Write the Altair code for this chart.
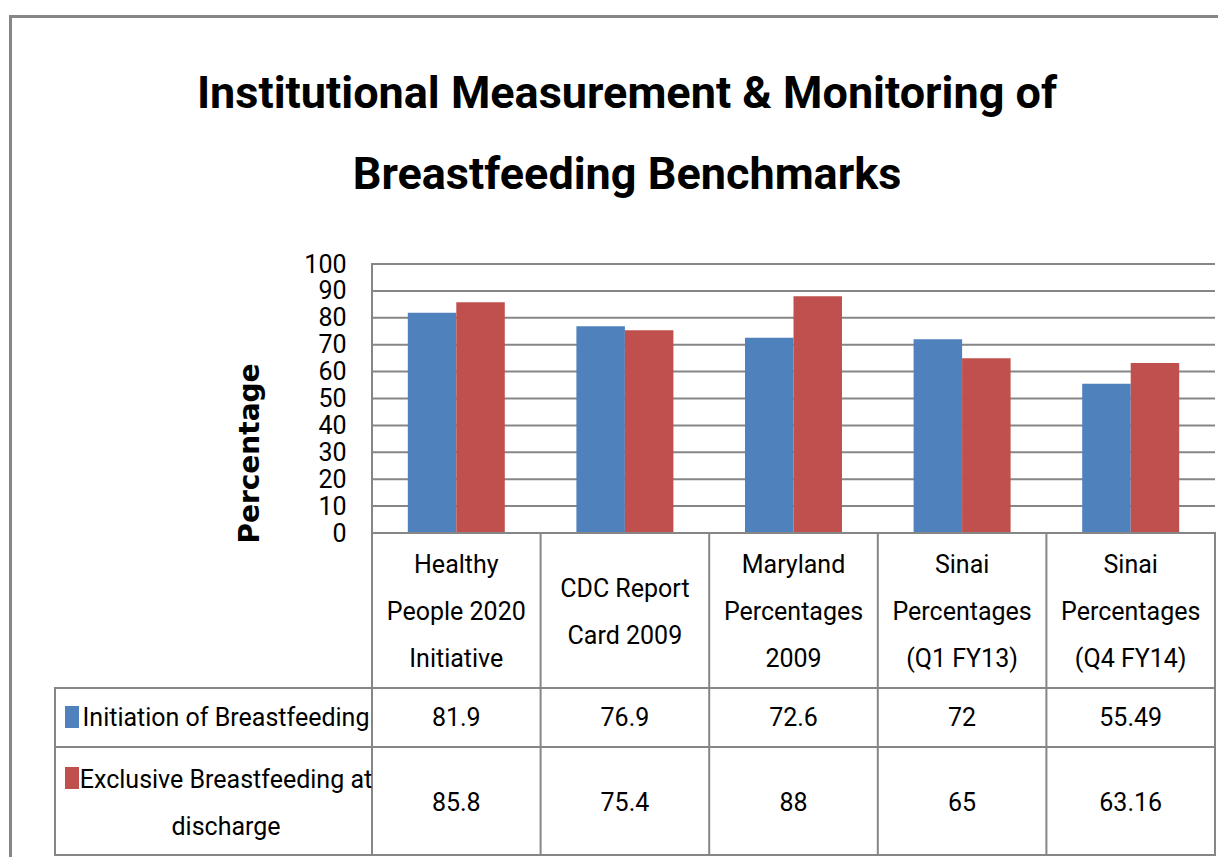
import altair as alt
import pandas as pd

# ---------------- data ----------------
categories = [
    "Healthy People 2020 Initiative",
    "CDC Report Card 2009",
    "Maryland Percentages 2009",
    "Sinai Percentages (Q1 FY13)",
    "Sinai Percentages (Q4 FY14)",
]
category_lines = [
    ["Healthy", "People 2020", "Initiative"],
    ["CDC Report", "Card 2009"],
    ["Maryland", "Percentages", "2009"],
    ["Sinai", "Percentages", "(Q1 FY13)"],
    ["Sinai", "Percentages", "(Q4 FY14)"],
]
series_names = ["Initiation of Breastfeeding", "Exclusive Breastfeeding at discharge"]
series_label_lines = [["Initiation of Breastfeeding"], ["Exclusive Breastfeeding at", "discharge"]]
initiation = [81.9, 76.9, 72.6, 72, 55.49]
exclusive = [85.8, 75.4, 88, 65, 63.16]
y_ticks = [0, 10, 20, 30, 40, 50, 60, 70, 80, 90, 100]
title_lines = ["Institutional Measurement & Monitoring of", "Breastfeeding Benchmarks"]
y_title = "Percentage"

# ---------------- layout / style ----------------
colors = ["#4F81BD", "#C0504D"]
GRAY = "#868686"
FONT = "Roboto, sans-serif"
TFS = 25   # table font size
LH = 47    # line height of table text

PLOT_L, PLOT_T, PLOT_R, PLOT_B = 55, 264, 1215, 855
COL0 = 372          # left edge of first category column
ZERO_Y, HUNDRED_Y = 533, 264
HEAD_B, ROW1_B = 688, 747
W, H = PLOT_R - PLOT_L, PLOT_B - PLOT_T
n = len(categories)
col_w = (PLOT_R - COL0) / n
x_min = -(COL0 - PLOT_L) / col_w
ppu = (ZERO_Y - HUNDRED_Y) / 100.0
y_min = -(PLOT_B - ZERO_Y) / ppu


def ux(px):
    return (px - COL0) / col_w


def uy(py):
    return (ZERO_Y - py) / ppu


bar_w = 48.5 / col_w

xs = alt.Scale(domain=[x_min, n], nice=False, zero=False)
ys = alt.Scale(domain=[y_min, 100], nice=False, zero=False)
yaxis = alt.Axis(
    values=y_ticks, grid=False, ticks=False, domain=False, offset=-(COL0 - PLOT_L),
    labelPadding=26, labelFont=FONT, labelFontSize=25, labelColor="black",
    labelOverlap=False,
    title=y_title, titleFont="DejaVu Sans", titleFontSize=28, titleFontWeight="bold",
    titleColor="black", titleX=250 - COL0, titleY=453 - PLOT_T, titleAngle=270,
    titleAlign="center", titleBaseline="middle",
)


def X(f):
    return alt.X(f, type="quantitative", scale=xs, axis=None)


def Y(f):
    return alt.Y(f, type="quantitative", scale=ys, axis=yaxis)


def first_line_y(center_px, nlines):
    return uy(center_px - (nlines - 1) * LH / 2.0)


# bars
rows = []
for j, vals in enumerate([initiation, exclusive]):
    for i, v in enumerate(vals):
        x0 = i + 0.5 + (j - 1) * bar_w
        rows.append({"cat": categories[i], "series": series_names[j], "value": v,
                     "x": x0, "x2": x0 + bar_w, "base": 0})
bars_df = pd.DataFrame(rows)

# grid lines
grid_df = pd.DataFrame([{"x": 0, "x2": n, "y": t} for t in y_ticks[1:]])

# table lines
lines = [
    {"x": 0, "x2": n, "y": 0, "y2": 0},
    {"x": x_min, "x2": n, "y": uy(HEAD_B), "y2": uy(HEAD_B)},
    {"x": x_min, "x2": n, "y": uy(ROW1_B), "y2": uy(ROW1_B)},
    {"x": x_min, "x2": n, "y": y_min, "y2": y_min},
    {"x": 0, "x2": 0, "y": 100, "y2": y_min},
    {"x": x_min, "x2": x_min, "y": uy(HEAD_B), "y2": y_min},
]
for k in range(1, n + 1):
    lines.append({"x": k, "x2": k, "y": 0, "y2": y_min})
lines_df = pd.DataFrame(lines)

# header text
head_df = pd.DataFrame([{"x": i + 0.5, "y": first_line_y(612, len(ls)), "label": "\n".join(ls)}
                        for i, ls in enumerate(category_lines)])

# values
row_mid_px = [(HEAD_B + ROW1_B) / 2, (ROW1_B + PLOT_B) / 2 + 2]
val_rows = []
for j, vals in enumerate([initiation, exclusive]):
    for i, v in enumerate(vals):
        val_rows.append({"x": i + 0.5, "y": uy(row_mid_px[j]), "label": f"{v:g}"})
val_df = pd.DataFrame(val_rows)

# row labels (legend column)
lab_df = pd.DataFrame([{"x": ux(226), "y": first_line_y(row_mid_px[j], len(ls)),
                        "label": "\n".join(ls)}
                       for j, ls in enumerate(series_label_lines)])
sq_centers = [717, 778]
sq_df = pd.DataFrame([{"series": series_names[j], "x": ux(65), "x2": ux(79),
                       "y": uy(c - 11), "y2": uy(c + 11)} for j, c in enumerate(sq_centers)])

# title
title_df = pd.DataFrame([{"x": ux(627), "y": uy(b), "label": t}
                         for t, b in zip(title_lines, [108, 189])])

color_enc = alt.Color("series:N", scale=alt.Scale(domain=series_names, range=colors), legend=None)

grid = alt.Chart(grid_df).mark_rule(color=GRAY, strokeWidth=2).encode(
    x=X("x"), x2="x2", y=Y("y"))
bars = alt.Chart(bars_df).mark_bar().encode(
    x=X("x"), x2="x2", y=Y("value"), y2="base", color=color_enc)
tlines = alt.Chart(lines_df).mark_rule(color=GRAY, strokeWidth=2, strokeCap="square").encode(
    x=X("x"), x2="x2", y=Y("y"), y2="y2")
head = alt.Chart(head_df).mark_text(font=FONT, fontSize=TFS, lineBreak="\n", lineHeight=LH,
                                    align="center", baseline="middle", color="black").encode(
    x=X("x"), y=Y("y"), text="label:N")
vals = alt.Chart(val_df).mark_text(font=FONT, fontSize=TFS, align="center", baseline="middle",
                                   color="black").encode(x=X("x"), y=Y("y"), text="label:N")
labs = alt.Chart(lab_df).mark_text(font=FONT, fontSize=TFS, lineBreak="\n", lineHeight=LH,
                                   align="center", baseline="middle", color="black").encode(
    x=X("x"), y=Y("y"), text="label:N")
squares = alt.Chart(sq_df).mark_rect().encode(
    x=X("x"), x2="x2", y=Y("y"), y2="y2", color=color_enc)
title = alt.Chart(title_df).mark_text(font=FONT, fontSize=45, fontWeight="bold", align="center",
                                      baseline="alphabetic", color="black").encode(
    x=X("x"), y=Y("y"), text="label:N")

one = pd.DataFrame({"a": [0]})
border_top = alt.Chart(one).mark_rule(color=GRAY, strokeWidth=3).encode(
    x=alt.value(-46), x2=alt.value(W + 20), y=alt.value(16.5 - PLOT_T))
border_left = alt.Chart(one).mark_rule(color=GRAY, strokeWidth=3).encode(
    x=alt.value(10.5 - PLOT_L), y=alt.value(15 - PLOT_T), y2=alt.value(H + 20))

chart = alt.layer(
    grid, bars, tlines, head, vals, labs, squares, title, border_top, border_left
).properties(
    width=W, height=H,
    background="white",
    padding={"left": PLOT_L - 8, "top": PLOT_T - 8, "right": 3, "bottom": 2},
    autosize=alt.AutoSizeParams(type="none"),
).configure_view(strokeWidth=0, stroke="transparent")

chart.save("out.html", embed_options={"renderer": "svg", "actions": False})
